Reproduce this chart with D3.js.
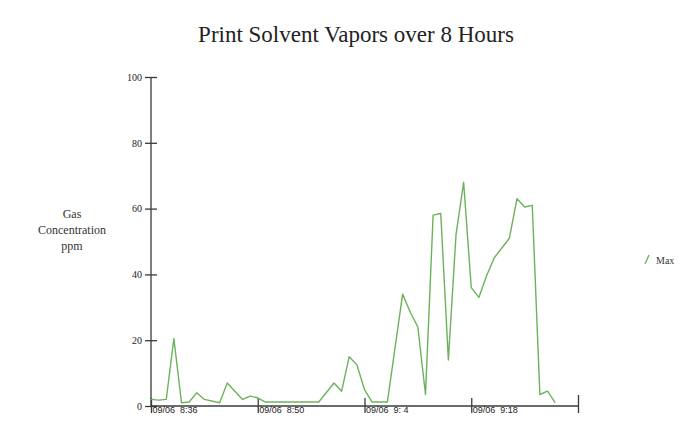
<!DOCTYPE html>
<html>
<head>
<meta charset="utf-8">
<script src="https://cdn.jsdelivr.net/npm/d3@7"></script>
<style>
  body { margin: 0; background: #fff; }
  svg { display: block; }
  .axis path, .axis line { stroke: #3a3a3a; stroke-width: 1.3; }
  .axis text { fill: #222; }
  #title { font-family: "Liberation Serif", serif; font-size: 23px; fill: #222; }
  .axis_label { font-family: "Liberation Serif", serif; font-size: 12px; fill: #333; }
  .legend_label { font-family: "Liberation Serif", serif; font-size: 10px; fill: #333; }
</style>
</head>
<body>
<script>
// data (one reading roughly every minute)
var times = ["08:36","08:37","08:38","08:39","08:40","08:41","08:42","08:43","08:45","08:46",
             "08:48","08:49","08:50","08:51","08:58","09:00","09:01","09:02","09:03","09:04",
             "09:05","09:07","09:09","09:10","09:11","09:12","09:13","09:14","09:15","09:16",
             "09:17","09:18","09:19","09:20","09:21","09:23","09:24","09:25","09:26","09:27",
             "09:28","09:29"];
var ppm = [2, 1.8, 2, 20.5, 1, 1.2, 4, 2, 1, 7,
           2, 3, 2.5, 1.2, 1.2, 7, 4.5, 15, 12.5, 5,
           1.2, 1.2, 34, 28.5, 24, 3.5, 58, 58.5, 14, 52,
           68, 36, 33, 39.5, 45, 51, 63, 60.5, 61, 3.5,
           4.5, 1];

var tickTimes = ["08:36", "08:50", "09:04", "09:18", "09:32"];
var tickLabels = ["09/06  8:36", "09/06  8:50", "09/06  9: 4", "09/06  9:18", ""];
var yTicks = [0, 20, 40, 60, 80, 100];
var titleText = "Print Solvent Vapors over 8 Hours";
var yLabel = ["Gas", "Concentration", "ppm"];
var legendText = "Max";

var width = 685, height = 426;
var margin = {top: 77, left: 151, right: 107, bottom: 20};

var parseTime = d3.timeParse("%H:%M");
var dataset = times.map(function(t, i) { return {time: parseTime(t), value: ppm[i]}; });

var svg = d3.select("body")
            .append("svg")
            .attr("width", width)
            .attr("height", height);

var xScale = d3.scaleTime()
               .domain([parseTime(tickTimes[0]), parseTime(tickTimes[tickTimes.length - 1])])
               .range([margin.left, width - margin.right]);

var yScale = d3.scaleLinear()
               .domain([0, 100])
               .range([406, margin.top]);

//Title
svg.append("text")
   .attr("id", "title")
   .attr("x", 356)
   .attr("y", 42)
   .attr("text-anchor", "middle")
   .text(titleText);

//Y axis
var yAxis = d3.axisLeft(yScale)
              .tickValues(yTicks)
              .tickSize(6)
              .tickPadding(3)
              .tickFormat(d3.format("d"));

var gy = svg.append("g")
    .attr("class", "axis")
    .attr("transform", "translate(" + margin.left + ",0)")
    .call(yAxis);
gy.select(".domain").attr("d", "M0," + yScale(100) + "V" + yScale(0));
gy.selectAll(".tick line").attr("x1", 6);
gy.selectAll(".tick text")
  .style("font-family", "Liberation Serif, serif")
  .style("font-size", "10px");

//Y axis label
svg.append("g").selectAll("text")
   .data(yLabel)
   .enter().append("text")
   .attr("class", "axis_label")
   .attr("x", 72)
   .attr("y", function(d, i) { return 218 + i * 16; })
   .attr("text-anchor", "middle")
   .text(function(d) { return d; });

//X axis
var xAxis = d3.axisBottom(xScale)
              .tickValues(tickTimes.map(parseTime))
              .tickSize(7)
              .tickFormat(function(d, i) { return tickLabels[i]; });

var gx = svg.append("g")
    .attr("class", "axis")
    .attr("transform", "translate(0," + yScale(0) + ")")
    .call(xAxis);
gx.select(".domain").attr("d", "M" + xScale.range()[0] + ",0H" + xScale.range()[1]);
gx.selectAll(".tick line").attr("y1", function(d, i) { return i == tickTimes.length - 1 ? -11 : -8; });
gx.selectAll(".tick text")
  .attr("x", 1)
  .attr("y", 1)
  .attr("dy", "0.71em")
  .attr("text-anchor", "start")
  .style("white-space", "pre")
  .style("font-family", "Liberation Sans, sans-serif")
  .style("font-size", "9px");

//Line
var line = d3.line()
             .x(function(d) { return xScale(d.time); })
             .y(function(d) { return yScale(d.value); });

svg.append("path")
   .datum(dataset)
   .attr("fill", "none")
   .attr("stroke", "#6cb25c")
   .attr("stroke-width", 1.4)
   .attr("stroke-linejoin", "round")
   .attr("d", line);

//Legend
svg.append("line")
   .attr("x1", 645).attr("y1", 264)
   .attr("x2", 649).attr("y2", 255)
   .attr("stroke", "#6cb25c")
   .attr("stroke-width", 1.3);

svg.append("text")
   .attr("class", "legend_label")
   .attr("x", 656)
   .attr("y", 264)
   .text(legendText);
</script>
</body>
</html>
